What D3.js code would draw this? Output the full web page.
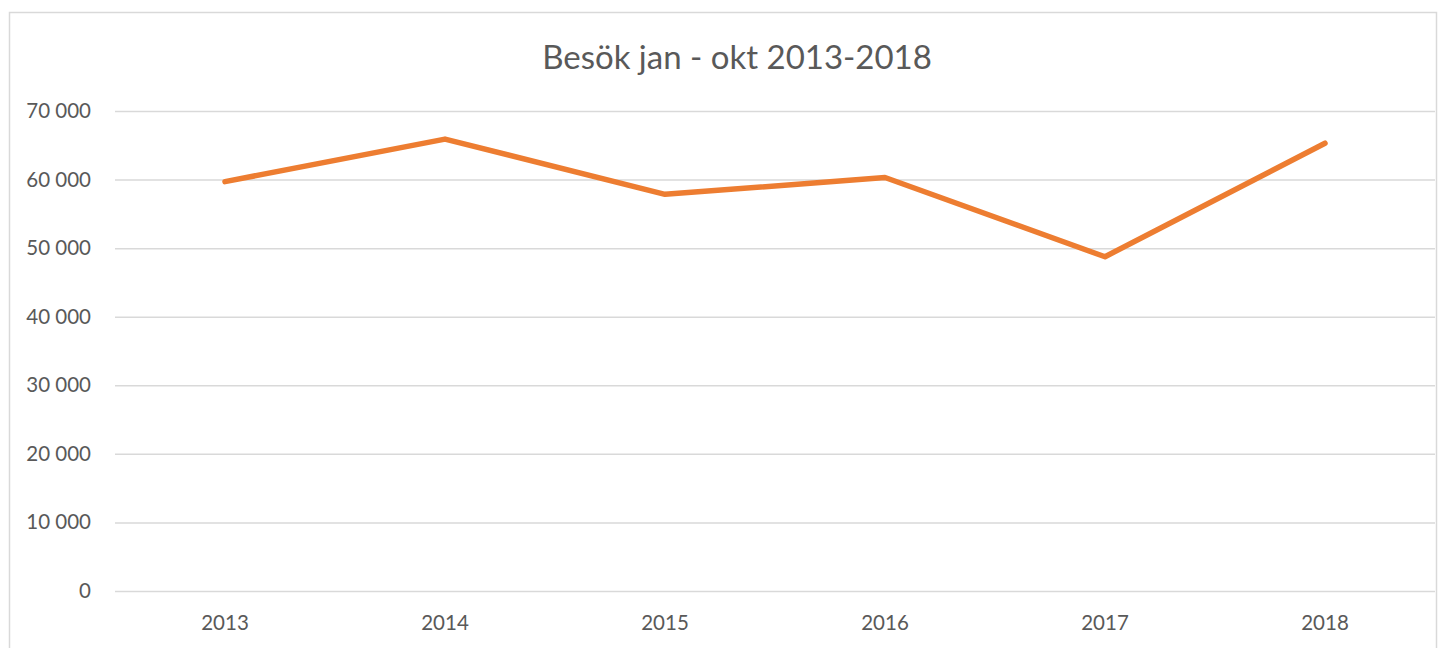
<!DOCTYPE html>
<html>
<head>
<meta charset="utf-8">
<script src="https://cdn.jsdelivr.net/npm/d3@7"></script>
<style>
  body { margin: 0; background: #fff; }
  text { font-family: Lato, "Open Sans", sans-serif; fill: #595959; }
</style>
</head>
<body>
<div id="chart"></div>
<script>
// data
var years = ["2013", "2014", "2015", "2016", "2017", "2018"];
var visits = [59700, 65900, 57850, 60300, 48750, 65300];
var yTicks = [0, 10000, 20000, 30000, 40000, 50000, 60000, 70000];
var title = "Besök jan - okt 2013-2018";

var W = 1442, H = 648;
var margin = { top: 111, right: 7, bottom: 57, left: 115 },
    width = W - margin.left - margin.right,
    height = H - margin.top - margin.bottom;

var svg = d3.select("#chart")
    .append("svg")
    .attr("width", W)
    .attr("height", H);

// outer chart border
svg.append("rect")
    .attr("x", 9.5)
    .attr("y", 12.5)
    .attr("width", 1427)
    .attr("height", 660)
    .attr("fill", "#fff")
    .attr("stroke", "#d9d9d9")
    .attr("stroke-width", 1.5);

svg.append("text")
    .attr("x", 737)
    .attr("y", 69)
    .attr("text-anchor", "middle")
    .style("font-size", "33px")
    .text(title);

var g = svg.append("g")
    .attr("transform", "translate(" + margin.left + "," + margin.top + ")");

var x = d3.scaleBand()
    .domain(years)
    .range([0, width]);

var y = d3.scaleLinear()
    .domain([0, 70000])
    .range([height, 0]);

var fmt = function(d) { return d3.format(",")(d).replace(/,/g, " "); };

// gridlines + y labels
var yAxis = g.append("g")
    .call(d3.axisLeft(y).tickValues(yTicks).tickSize(-width).tickPadding(24).tickFormat(fmt));
yAxis.select(".domain").remove();
yAxis.selectAll("line").attr("stroke", "#d9d9d9").attr("stroke-width", 1.5);
yAxis.selectAll("text").style("font-size", "20.5px").attr("fill", "#595959");

// x labels
var xAxis = g.append("g")
    .attr("transform", "translate(0," + height + ")")
    .call(d3.axisBottom(x).tickSize(0).tickPadding(24));
xAxis.select(".domain").remove();
xAxis.selectAll("text").style("font-size", "20.5px").attr("fill", "#595959");

// line
var line = d3.line()
    .x(function(d, i) { return x(years[i]) + x.bandwidth() / 2; })
    .y(function(d) { return y(d); });

g.append("path")
    .datum(visits)
    .attr("d", line)
    .attr("fill", "none")
    .attr("stroke", "#ed7d31")
    .attr("stroke-width", 5.5)
    .attr("stroke-linecap", "round")
    .attr("stroke-linejoin", "round");
</script>
</body>
</html>
